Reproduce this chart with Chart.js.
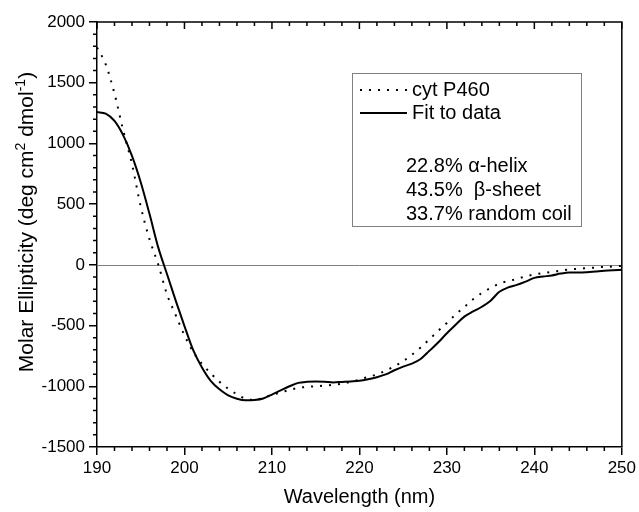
<!DOCTYPE html>
<html>
<head>
<meta charset="utf-8">
<script src="https://cdn.jsdelivr.net/npm/chart.js@4.4.1/dist/chart.umd.min.js"></script>
<style>
  body { margin: 0; background: #fff; }
  #wrap { width: 639px; height: 512px; }
</style>
</head>
<body>
<div id="wrap"><canvas id="cdChart" width="639" height="512"></canvas></div>
<script>
// wavelength in nm, 1 nm steps
const wavelengths = [];
for (let w = 190; w <= 250; w++) wavelengths.push(w);

// measured CD spectrum (dotted)
const cytP460 = [
  1790, 1650, 1410, 1105, 830, 480, 212, 3, -242, -414,
  -580, -718, -816, -893, -963, -1021, -1065, -1103, -1112, -1095,
  -1070, -1052, -1030, -1013, -1005, -1000, -995, -988, -978, -964,
  -945, -923, -902, -871, -835, -793, -740, -680, -613, -544,
  -478, -409, -347, -283, -232, -191, -154, -134, -116, -94,
  -80, -67, -59, -48, -38, -32, -27, -22, -16, -14, -8
];

// fitted spectrum (solid)
const fitToData = [
  1258, 1245, 1185, 1066, 897, 680, 420, 144, -75, -295,
  -504, -703, -845, -955, -1025, -1075, -1103, -1116, -1113, -1100,
  -1068, -1033, -1000, -972, -963, -961, -963, -968, -964, -960,
  -955, -942, -925, -902, -868, -838, -813, -775, -708, -640,
  -563, -493, -426, -384, -345, -295, -222, -186, -165, -138,
  -107, -96, -88, -72, -63, -63, -60, -54, -48, -44, -41
];

const seriesNames = ['cyt P460', 'Fit to data'];
const fitResults = ['22.8% \u03b1-helix', '43.5%  \u03b2-sheet', '33.7% random coil'];

const xMin = 190, xMax = 250, xMajor = 10, xMinor = 2;
const yMin = -1500, yMax = 2000, yMajor = 500, yMinor = 100;

const FONT = '"Liberation Sans", Arial, sans-serif';

const toPoints = (vals) => vals.map((v, i) => ({ x: wavelengths[i], y: v }));

// y title with real superscripts: [text, isSuperscript]
const yTitleParts = [['Molar Ellipticity (deg cm', false], ['2', true], [' dmol', false], ['-1', true], [')', false]];

const frame = {
  id: 'frame',
  beforeDatasetsDraw(chart) {
    const { ctx, chartArea: a, scales: { y } } = chart;
    ctx.save();
    ctx.strokeStyle = '#808080';
    ctx.lineWidth = 1;
    const y0 = Math.round(y.getPixelForValue(0)) + 0.5;
    ctx.beginPath();
    ctx.moveTo(a.left, y0);
    ctx.lineTo(a.right, y0);
    ctx.stroke();
    ctx.restore();
  },
  afterDraw(chart) {
    const { ctx, chartArea: a, scales: { x, y } } = chart;
    ctx.save();
    ctx.strokeStyle = '#000';
    ctx.lineWidth = 1.5;
    // top + right axis lines
    ctx.beginPath();
    ctx.moveTo(a.left, a.top);
    ctx.lineTo(a.right, a.top);
    ctx.lineTo(a.right, a.bottom);
    ctx.stroke();
    ctx.beginPath();
    for (let v = xMin; v <= xMax; v += xMinor) {
      const px = x.getPixelForValue(v);
      const major = v % xMajor === 0;
      if (!major) {
        ctx.moveTo(px, a.bottom);
        ctx.lineTo(px, a.bottom + 4);
      }
      ctx.moveTo(px, a.top);
      ctx.lineTo(px, a.top + (major ? 7 : 4));
    }
    for (let v = yMin; v <= yMax; v += yMinor) {
      if (v % yMajor === 0) continue;
      const py = y.getPixelForValue(v);
      ctx.moveTo(a.left, py);
      ctx.lineTo(a.left - 4, py);
    }
    ctx.stroke();

    // legend box
    ctx.strokeStyle = '#808080';
    ctx.lineWidth = 1;
    ctx.strokeRect(352.5, 73.5, 229, 153);
    ctx.strokeStyle = '#000';
    ctx.lineWidth = 2;
    ctx.setLineDash([2, 7]);
    ctx.beginPath();
    ctx.moveTo(360, 90);
    ctx.lineTo(408, 90);
    ctx.stroke();
    ctx.setLineDash([]);
    ctx.beginPath();
    ctx.moveTo(360, 113);
    ctx.lineTo(407, 113);
    ctx.stroke();
    ctx.fillStyle = '#000';
    ctx.font = '20px ' + FONT;
    ctx.textBaseline = 'middle';
    ctx.fillText(seriesNames[0], 412, 90);
    ctx.fillText(seriesNames[1], 412, 113);
    fitResults.forEach((t, i) => ctx.fillText(t, 406, 166 + i * 24));

    // rotated y title
    const big = '21px ' + FONT, small = '14px ' + FONT;
    let total = 0;
    yTitleParts.forEach(([t, sup]) => { ctx.font = sup ? small : big; total += ctx.measureText(t).width; });
    ctx.translate(26, 222);
    ctx.rotate(-Math.PI / 2);
    ctx.textBaseline = 'alphabetic';
    let cx = -total / 2;
    yTitleParts.forEach(([t, sup]) => {
      ctx.font = sup ? small : big;
      ctx.fillText(t, cx, sup ? -1 : 7);
      cx += ctx.measureText(t).width;
    });
    ctx.restore();
  }
};

const fontTicks = { family: FONT, size: 17 };
const fontTitle = { family: FONT, size: 20 };

new Chart(document.getElementById('cdChart'), {
  type: 'line',
  data: {
    datasets: [
      {
        label: seriesNames[0],
        data: toPoints(cytP460),
        borderColor: '#000',
        borderWidth: 2,
        borderDash: [2, 7],
        pointRadius: 0,
        cubicInterpolationMode: 'monotone',
        fill: false
      },
      {
        label: seriesNames[1],
        data: toPoints(fitToData),
        borderColor: '#000',
        borderWidth: 2,
        pointRadius: 0,
        cubicInterpolationMode: 'monotone',
        fill: false
      }
    ]
  },
  options: {
    responsive: false,
    animation: false,
    layout: { padding: { left: 0, right: 16, top: 22, bottom: 0 } },
    plugins: { legend: { display: false }, tooltip: { enabled: false } },
    scales: {
      x: {
        type: 'linear',
        min: xMin,
        max: xMax,
        afterFit(scale) { scale.height = 65; },
        grid: { drawOnChartArea: false, drawTicks: true, tickLength: 8, color: '#000', lineWidth: 1.5 },
        border: { display: true, color: '#000', width: 1.5 },
        ticks: { stepSize: xMajor, color: '#000', font: fontTicks, padding: 3, maxRotation: 0, callback: (v) => String(v) },
        title: { display: true, text: 'Wavelength (nm)', color: '#000', font: fontTitle, padding: { top: 0, bottom: 3 } }
      },
      y: {
        min: yMin,
        max: yMax,
        afterFit(scale) { scale.width = 97; },
        grid: { drawOnChartArea: false, drawTicks: true, tickLength: 8, color: '#000', lineWidth: 1.5 },
        border: { display: true, color: '#000', width: 1.5 },
        ticks: { stepSize: yMajor, color: '#000', font: fontTicks, padding: 4, callback: (v) => String(v) }
      }
    }
  },
  plugins: [frame]
});
</script>
</body>
</html>
